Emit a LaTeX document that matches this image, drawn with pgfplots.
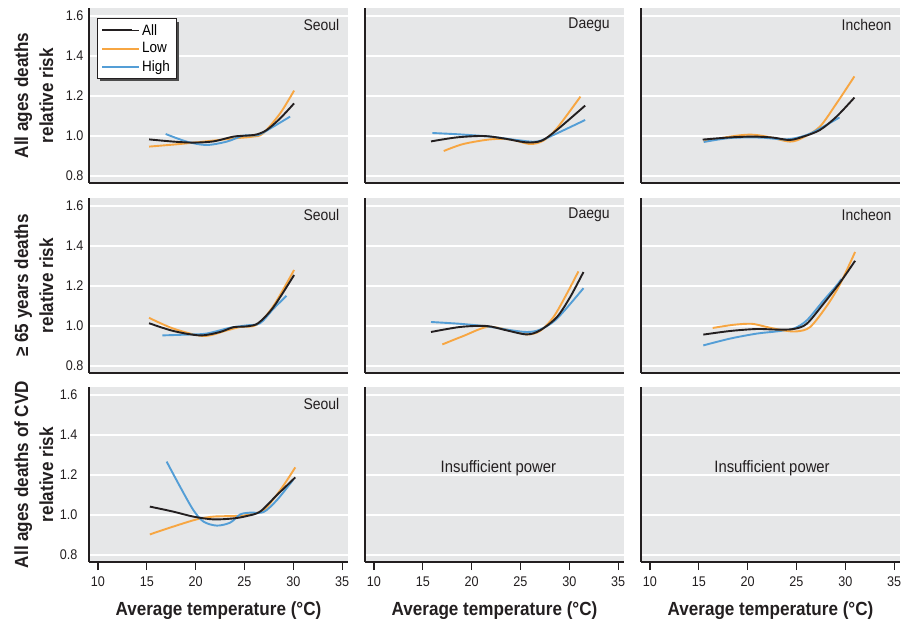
\documentclass[border=0pt]{standalone}
\usepackage{fontspec}
\setmainfont{Liberation Sans}[FakeStretch=0.9]
\usepackage{pgfplots}
\pgfplotsset{compat=1.18}
\usetikzlibrary{shadows}
\makeatletter
\tikzset{no preactions/.code={\let\tikz@preactions\pgfutil@empty}}
\makeatother
\definecolor{bgc}{RGB}{230,231,232}
\definecolor{axc}{RGB}{35,31,32}
\definecolor{lowc}{RGB}{247,166,66}
\definecolor{highc}{RGB}{84,158,214}
\pgfplotsset{
  panel/.style={
    scale only axis, width=259pt, height=175pt,
    xmin=9.08, xmax=35.6, ymin=0.765, ymax=1.64,
    axis background/.style={fill=bgc},
    axis x line=bottom, axis y line=left,
    axis line style={line width=2.5pt, draw=axc, -},
    ytick={0.8,1.0,1.2,1.4,1.6}, yticklabels={},
    ymajorgrids, major grid style={white, line width=1.4pt},
    ytick style={draw=none},
    xtick=\empty,
    tick label style={font=\fontsize{14}{14}\selectfont, text=axc},
    every axis plot/.append style={line width=1.9pt, smooth},
    ylabel style={align=center, font=\fontsize{19}{25}\selectfont\bfseries, text=axc,
      at={(axis description cs:-0.137,0.5)}, anchor=south, inner sep=0pt},
    xlabel style={font=\fontsize{19}{22}\selectfont\bfseries, text=axc,
      at={(axis description cs:0.5,0)}, anchor=center, yshift=-49pt},
  },
  leftcol/.style={yticklabels={0.8,1.0,1.2,1.4,1.6}},
  bottomrow/.style={xtick={10,15,20,25,30,35}, xticklabels={10,15,20,25,30,35},
    xtick style={draw=axc, line width=1.2pt}, major tick length=8pt, tick align=outside,
    xticklabel style={yshift=-3pt},
    xlabel={Average temperature (°C)}},
}
\newcommand{\city}[2][0.98]{\node[anchor=east, font=\fontsize{15.5}{15.5}\selectfont, text=axc] at (rel axis cs:#1,0.903) {#2};}
\begin{document}
\begin{tikzpicture}
% ---------- Row 1 ----------
\begin{axis}[panel, leftcol, at={(89pt,-8pt)}, anchor=north west,
  ylabel={All ages deaths\\relative risk},
  legend style={at={(0.031,0.94)}, anchor=north west, draw=axc, line width=0.6pt, fill=white,
    font=\fontsize{15}{17}\selectfont,
    drop shadow={shadow xshift=3pt, shadow yshift=-3pt, fill=black!70, opacity=1},
    inner xsep=4pt, inner ysep=3.5pt, row sep=2pt, cells={anchor=west}},
  legend image code/.code={\fill[no preactions, #1, draw=none] (0pt,-1pt) rectangle (30pt,1pt); \path[no preactions] (0pt,0pt) -- (37pt,0pt);}]
\addlegendimage{axc}\addlegendentry{All}
\addlegendimage{lowc}\addlegendentry{Low}
\addlegendimage{highc}\addlegendentry{High}
\addplot[lowc, forget plot] coordinates {(15.23,0.947) (18.4,0.96) (21.8,0.977) (23.9,0.988) (25.9,0.997) (26.9,1.013) (28.65,1.113) (30.08,1.227)};
\addplot[highc, forget plot] coordinates {(16.93,1.01) (19.08,0.972) (21.1,0.955) (23.2,0.972) (24.9,1.002) (26.4,1.005) (27.96,1.047) (29.67,1.097)};
\addplot[axc, forget plot] coordinates {(15.23,0.983) (17.72,0.972) (19.77,0.967) (21.82,0.973) (23.87,0.997) (25.23,1.002) (26.26,1.008) (27.28,1.03) (28.65,1.088) (30.08,1.163)};
\city{Seoul}
\end{axis}
\begin{axis}[panel, at={(365pt,-8pt)}, anchor=north west]
\addplot[lowc] coordinates {(17.14,0.925) (19.15,0.96) (21.9,0.983) (23.93,0.983) (25.98,0.96) (27.35,0.977) (28.72,1.038) (31.14,1.197)};
\addplot[highc] coordinates {(15.98,1.015) (18.8,1.008) (21.9,0.997) (24.6,0.98) (26.67,0.972) (28.37,1.005) (31.62,1.08)};
\addplot[axc] coordinates {(15.84,0.973) (18.47,0.993) (21.2,1.0) (23.25,0.988) (25.64,0.968) (27.18,0.977) (28.72,1.03) (31.62,1.152)};
\city[0.958]{Daegu}
\end{axis}
\begin{axis}[panel, at={(641pt,-8pt)}, anchor=north west]
\addplot[lowc] coordinates {(15.5,0.972) (18.2,0.997) (20.25,1.007) (21.96,0.997) (24.34,0.972) (25.7,0.993) (27.4,1.047) (29.1,1.163) (30.93,1.298)};
\addplot[highc] coordinates {(15.5,0.97) (18.2,0.99) (21.3,0.992) (24.0,0.983) (26.05,1.005) (27.76,1.047) (29.4,1.093)};
\addplot[axc] coordinates {(15.4,0.982) (18.2,0.993) (20.6,0.997) (22.6,0.992) (24.3,0.98) (25.7,0.997) (27.4,1.03) (29.1,1.097) (30.93,1.192)};
\city{Incheon}
\end{axis}
% ---------- Row 2 ----------
\begin{axis}[panel, leftcol, at={(89pt,-198pt)}, anchor=north west,
  ylabel={≥ 65 years deaths\\relative risk}]
\addplot[lowc] coordinates {(15.23,1.041) (17.72,0.987) (20.8,0.95) (23.2,0.978) (24.55,0.995) (26.26,1.006) (27.96,1.1) (30.08,1.28)};
\addplot[highc] coordinates {(16.6,0.953) (19.08,0.957) (21.1,0.962) (23.5,0.991) (25.2,1.003) (26.6,1.014) (27.96,1.086) (29.3,1.151)};
\addplot[axc] coordinates {(15.23,1.014) (17.72,0.975) (20.45,0.953) (22.5,0.97) (23.87,0.994) (25.2,0.998) (26.4,1.014) (27.96,1.094) (30.08,1.255)};
\city{Seoul}
\end{axis}
\begin{axis}[panel, at={(365pt,-198pt)}, anchor=north west]
\addplot[lowc] coordinates {(17.0,0.908) (19.15,0.95) (21.55,0.995) (23.6,0.982) (25.64,0.958) (27.0,0.975) (28.37,1.044) (29.74,1.161) (30.93,1.273)};
\addplot[highc] coordinates {(15.84,1.02) (18.8,1.011) (21.55,0.998) (23.6,0.982) (25.64,0.97) (27.0,0.982) (28.72,1.036) (31.45,1.189)};
\addplot[axc] coordinates {(15.84,0.97) (18.8,0.995) (21.55,1.0) (23.6,0.978) (25.64,0.958) (27.0,0.978) (28.72,1.044) (30.08,1.144) (31.45,1.27)};
\city[0.958]{Daegu}
\end{axis}
\begin{axis}[panel, at={(641pt,-198pt)}, anchor=north west]
\addplot[highc] coordinates {(15.46,0.903) (18.2,0.937) (20.93,0.962) (22.98,0.973) (24.7,0.987) (26.05,1.028) (27.76,1.127) (29.1,1.202) (29.6,1.235)};
\addplot[lowc] coordinates {(16.42,0.99) (18.54,1.006) (20.42,1.011) (21.96,0.995) (23.66,0.978) (25.03,0.973) (26.4,0.995) (28.1,1.1) (29.47,1.21) (31.0,1.37)};
\addplot[axc] coordinates {(15.46,0.957) (18.2,0.975) (20.93,0.985) (22.98,0.982) (24.7,0.985) (26.05,1.011) (27.76,1.111) (29.47,1.218) (31.0,1.326)};
\city{Incheon}
\end{axis}
% ---------- Row 3 ----------
\begin{axis}[panel, leftcol, bottomrow, at={(89pt,-387pt)}, anchor=north west,
  ylabel={All ages deaths of CVD\\relative risk}]
\addplot[lowc] coordinates {(15.31,0.903) (17.7,0.942) (20.1,0.978) (21.82,0.992) (23.87,0.995) (25.25,1.0) (26.96,1.025) (28.67,1.125) (30.2,1.238)};
\addplot[highc] coordinates {(17.03,1.267) (18.4,1.142) (19.76,1.025) (20.8,0.967) (22.17,0.947) (23.54,0.962) (24.57,1.003) (25.6,1.012) (26.96,1.015) (28.33,1.075) (29.97,1.175)};
\addplot[axc] coordinates {(15.31,1.042) (17.7,1.017) (19.76,0.992) (21.82,0.978) (23.87,0.983) (25.25,0.995) (26.6,1.017) (28.33,1.1) (30.2,1.188)};
\city{Seoul}
\end{axis}
\begin{axis}[panel, bottomrow, at={(365pt,-387pt)}, anchor=north west]
\node[font=\fontsize{16.5}{16.5}\selectfont, text=axc] at (rel axis cs:0.515,0.537) {Insufficient power};
\end{axis}
\begin{axis}[panel, bottomrow, at={(641pt,-387pt)}, anchor=north west]
\node[font=\fontsize{16.5}{16.5}\selectfont, text=axc] at (rel axis cs:0.506,0.537) {Insufficient power};
\end{axis}
\pgfresetboundingbox
\path (0pt,0pt) rectangle (910pt,-623pt);
\end{tikzpicture}
\end{document}
